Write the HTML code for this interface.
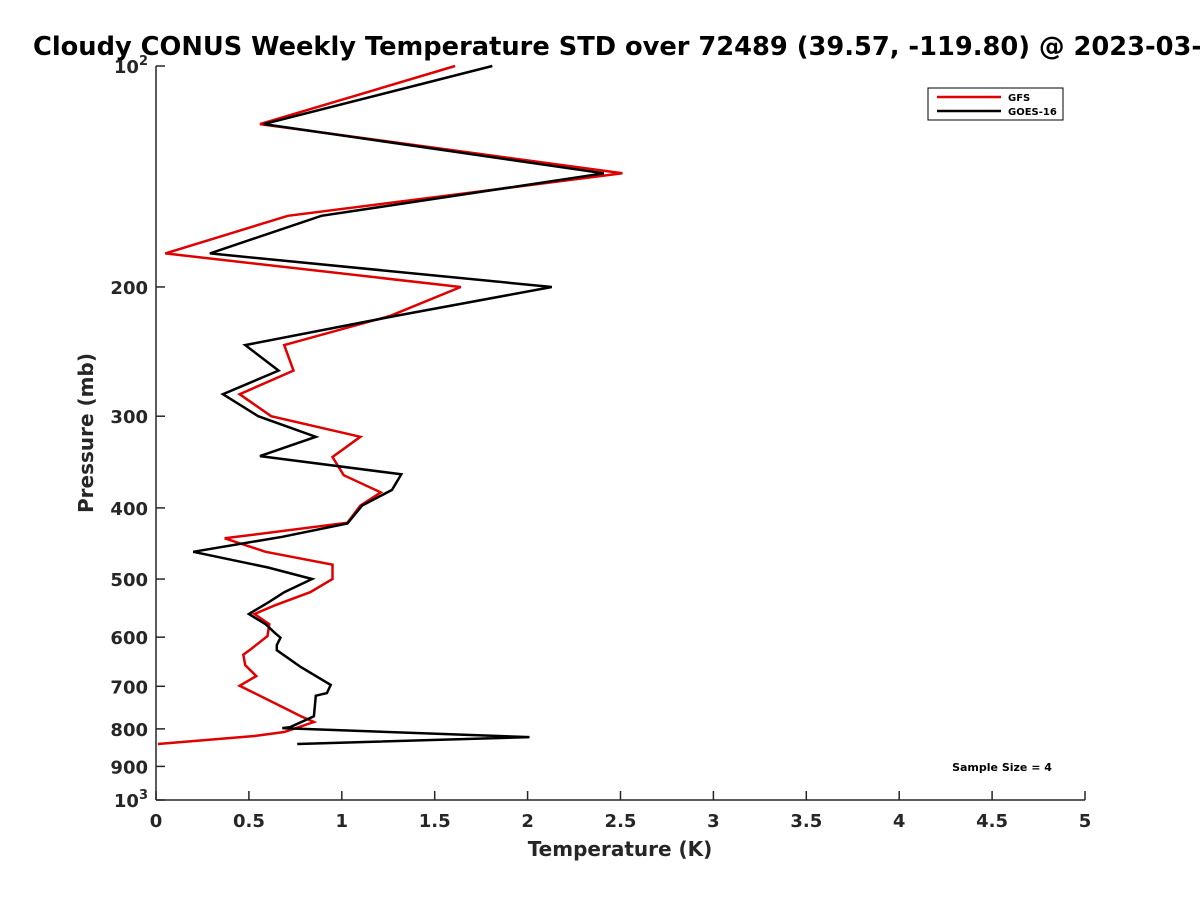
<!DOCTYPE html>
<html><head><meta charset="utf-8"><style>
body{margin:0;background:#fff;overflow:hidden}
svg{display:block;font-family:"DejaVu Sans","Liberation Sans",sans-serif;font-weight:bold}
</style></head><body>
<svg id="chart" width="1200" height="900">
<text x="33" y="55" font-size="25.7" fill="#000">Cloudy CONUS Weekly Temperature STD over 72489 (39.57, -119.80) @ 2023-03-21</text>
<g id="axes"></g>
<g id="series"></g>
<g>
<rect x="928" y="88" width="135" height="32" fill="#fff" stroke="#000" stroke-width="1"/>
<line x1="937" y1="97" x2="1001" y2="97" stroke="#e00000" stroke-width="2.5"/>
<text x="1008" y="101" font-size="10">GFS</text>
<line x1="937" y1="111" x2="1001" y2="111" stroke="#000" stroke-width="2.5"/>
<text x="1008" y="115" font-size="10">GOES-16</text>
</g>
<text x="1002" y="771" font-size="11" text-anchor="middle">Sample Size = 4</text>
<text x="620" y="856" font-size="20" text-anchor="middle" fill="#262626">Temperature (K)</text>
<text transform="translate(93,433) rotate(-90)" font-size="20" text-anchor="middle" fill="#262626">Pressure (mb)</text>
</svg>
<script>
const xTicks=[0,0.5,1,1.5,2,2.5,3,3.5,4,4.5,5];
const xTickLabels=["0","0.5","1","1.5","2","2.5","3","3.5","4","4.5","5"];
const yTicks=[100,200,300,400,500,600,700,800,900,1000];
const yTickLabels=["10^2","200","300","400","500","600","700","800","900","10^3"];
const goesP=[100,120,140,160,180,200,219,240,260,280,300,320,340,360,378,397,420,438,459,482,500,521,537,558,576,592,601,615,625,659,697,715,721,769,796,798,821,839];
const goesT=[1.81,0.58,2.41,0.89,0.29,2.13,1.29,0.48,0.66,0.36,0.55,0.86,0.56,1.32,1.27,1.11,1.03,0.68,0.20,0.60,0.84,0.69,0.61,0.50,0.59,0.64,0.67,0.65,0.65,0.78,0.94,0.92,0.86,0.85,0.72,0.68,2.01,0.76];
const gfsP=[100,120,140,160,180,200,219,240,260,280,300,320,341,361,381,397,419,440,459,478,500,521,543,558,576,598,623,634,655,678,699,738,769,783,808,818,839];
const gfsT=[1.61,0.56,2.51,0.71,0.05,1.64,1.26,0.69,0.74,0.45,0.62,1.10,0.95,1.01,1.21,1.10,1.03,0.37,0.59,0.95,0.95,0.83,0.64,0.53,0.61,0.60,0.51,0.47,0.48,0.54,0.45,0.64,0.78,0.85,0.69,0.53,0.01];
const X0=156,X1=1085,Y0=66,Y1=800;
const xs=t=>X0+(t-0)/(5-0)*(X1-X0);
const ys=p=>Y0+(Math.log10(p)-2)*(Y1-Y0);
const NS="http://www.w3.org/2000/svg";
const axes=document.getElementById('axes'),ser=document.getElementById('series');
function mk(tag,attrs,parent){const e=document.createElementNS(NS,tag);for(const k in attrs)e.setAttribute(k,attrs[k]);parent.appendChild(e);return e;}
const yAxis=mk('line',{x1:X0,y1:Y0,x2:X0,y2:Y1,stroke:'#262626','stroke-width':1.5},axes);


const xAxis=mk('line',{x1:X0,y1:Y1,x2:X1,y2:Y1,stroke:'#262626','stroke-width':1.5},axes);


xTicks.forEach((t,i)=>{
  mk('line',{x1:xs(t),y1:Y1,x2:xs(t),y2:Y1-9,stroke:'#262626','stroke-width':1.5},axes);
  const tx=mk('text',{x:xs(t),y:Y1+27,'font-size':18,'text-anchor':'middle',fill:'#262626'},axes);
  tx.textContent=xTickLabels[i];
  
  
});
yTicks.forEach((p,i)=>{
  mk('line',{x1:X0,y1:ys(p),x2:X0+9,y2:ys(p),stroke:'#262626','stroke-width':1.5},axes);
  const lab=yTickLabels[i];
  const tx=mk('text',{x:X0-8,y:ys(p)+7,'font-size':18,'text-anchor':'end',fill:'#262626'},axes);
  
  
  if(lab.indexOf('^')>=0){
    const parts=lab.split('^');
    const b=mk('tspan',{},tx);b.textContent=parts[0];
    const s=mk('tspan',{dy:-8,'font-size':13},tx);s.textContent=parts[1];
  } else tx.textContent=lab;
});
function line(T,P,color,name){
  const pts=T.map((t,i)=>xs(t).toFixed(1)+','+ys(P[i]).toFixed(1)).join(' ');
  const pl=mk('polyline',{points:pts,fill:'none',stroke:color,'stroke-width':2.5,'stroke-linejoin':'miter'},ser);
  
  
}
line(gfsT,gfsP,'#e00000','gfs-line');
line(goesT,goesP,'#000','goes16-line');
</script>
</body></html>
